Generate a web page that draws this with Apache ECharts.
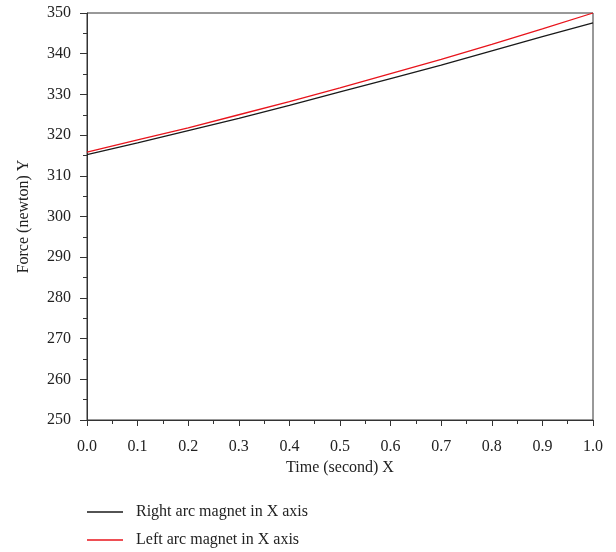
<!DOCTYPE html>
<html><head><meta charset="utf-8">
<script src="https://cdn.jsdelivr.net/npm/echarts@6/dist/echarts.min.js"></script>
<style>html,body{margin:0;padding:0;background:#fff}#c{width:616px;height:552px}</style>
</head><body><div id="c"></div>
<script>
const xValues = [0, 0.1, 0.2, 0.3, 0.4, 0.5, 0.6, 0.7, 0.8, 0.9, 1.0];
const rightArc = [315.2, 318.1, 321.1, 324.1, 327.3, 330.6, 333.9, 337.2, 340.7, 344.2, 347.6];
const leftArc = [315.8, 318.8, 321.8, 325.0, 328.2, 331.6, 335.1, 338.6, 342.3, 346.1, 350.0];
const seriesNames = ['Right arc magnet in X axis', 'Left arc magnet in X axis'];
const seriesColors = ['#1a1a1a', '#e8141c'];

const font = 'Liberation Serif';
const chart = echarts.init(document.getElementById('c'));
chart.setOption({
  animation: false,
  grid: {left: 87, right: 23, top: 13, bottom: 132, show: true, borderColor: '#333', borderWidth: 1},
  xAxis: {
    type: 'value', min: 0, max: 1, interval: 0.1,
    name: 'Time (second) X', nameLocation: 'middle', nameGap: 40,
    nameTextStyle: {fontFamily: font, fontSize: 16, color: '#222'},
    axisLine: {lineStyle: {color: '#333'}},
    axisTick: {length: 6, lineStyle: {color: '#333'}},
    minorTick: {show: true, splitNumber: 2, length: 4, lineStyle: {color: '#333'}},
    splitLine: {show: false},
    axisLabel: {fontFamily: font, fontSize: 16, color: '#222', margin: 19, formatter: v => v.toFixed(1)}
  },
  yAxis: {
    type: 'value', min: 250, max: 350, interval: 10,
    name: 'Force (newton) Y', nameLocation: 'middle', nameGap: 55,
    nameTextStyle: {fontFamily: font, fontSize: 16, color: '#222'},
    axisLine: {show: true, lineStyle: {color: '#333'}},
    axisTick: {show: true, length: 7, lineStyle: {color: '#333'}},
    minorTick: {show: true, splitNumber: 2, length: 4, lineStyle: {color: '#333'}},
    splitLine: {show: false},
    axisLabel: {fontFamily: font, fontSize: 16, color: '#222', margin: 16}
  },
  legend: {
    orient: 'vertical', left: 87, top: 504, padding: 0,
    itemWidth: 36, itemHeight: 14, itemGap: 12,
    icon: 'path://M0,0L36,0L36,1.6L0,1.6Z',
    textStyle: {fontFamily: font, fontSize: 16, color: '#222', padding: [0, 0, 0, 8]},
    data: seriesNames.map((n, i) => ({name: n, itemStyle: {color: seriesColors[i], borderWidth: 0}}))
  },
  series: [
    {name: seriesNames[0], type: 'line', symbol: 'none', color: seriesColors[0], lineStyle: {width: 1.3},
     data: xValues.map((x, i) => [x, rightArc[i]])},
    {name: seriesNames[1], type: 'line', symbol: 'none', color: seriesColors[1], lineStyle: {width: 1.3},
     data: xValues.map((x, i) => [x, leftArc[i]])}
  ]
});
</script></body></html>
